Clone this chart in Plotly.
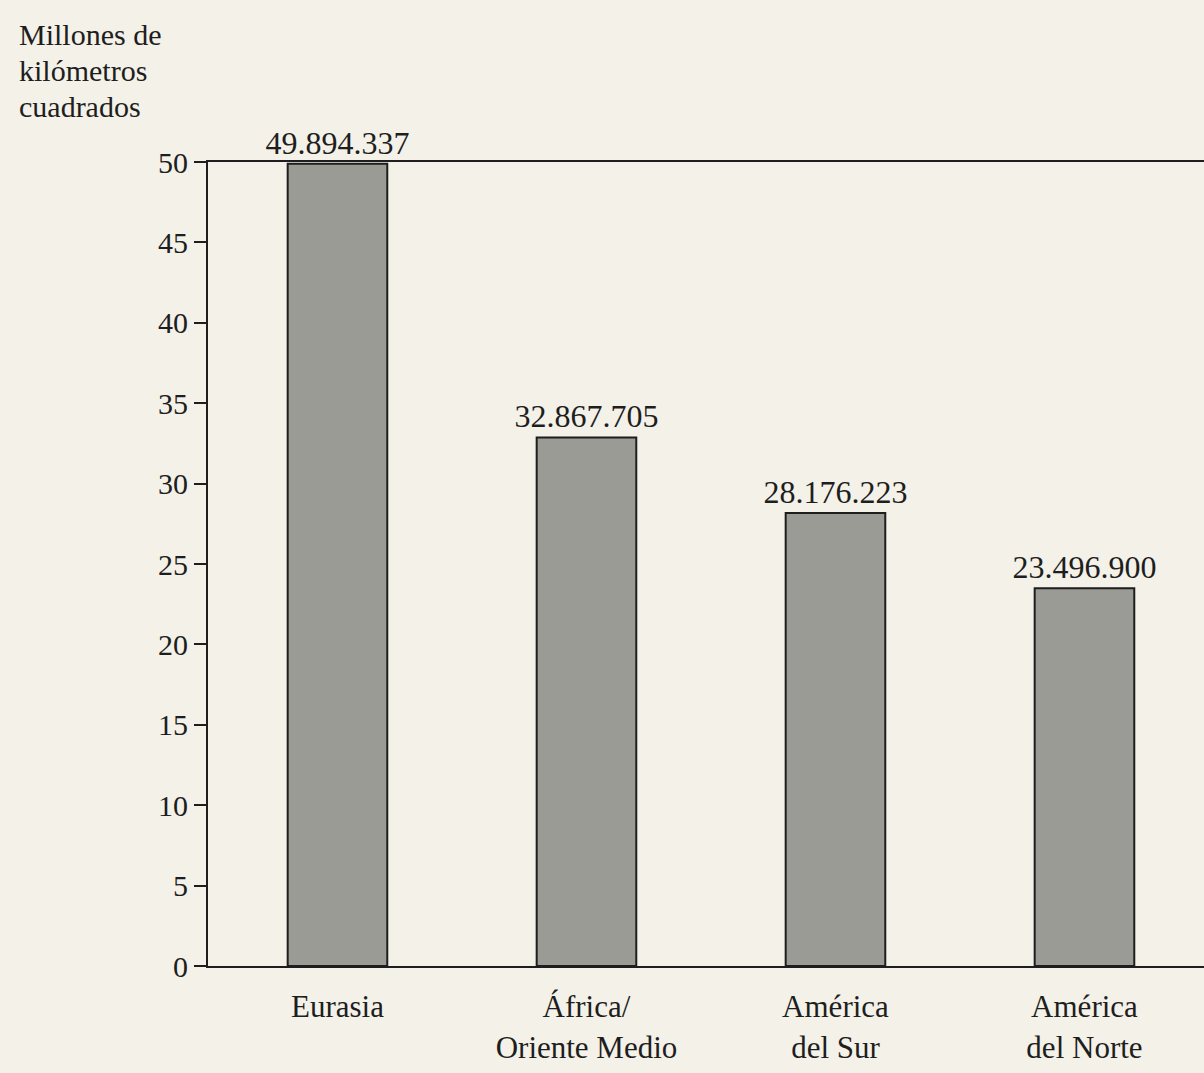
import plotly.graph_objects as go

categories = ["Eurasia", "África/<br>Oriente Medio", "América<br>del Sur", "América<br>del Norte"]
areas_millions = [49.894337, 32.867705, 28.176223, 23.4969]
y_tickvals = [0, 5, 10, 15, 20, 25, 30, 35, 40, 45, 50]

labels = [f"{int(round(v * 1e6)):,}".replace(",", ".") for v in areas_millions]

FONT = "Liberation Serif"
INK = "#1e1e1e"
PAPER = "#f3f1e8"

fig = go.Figure(
    go.Bar(
        x=categories,
        y=areas_millions,
        text=labels,
        textposition="outside",
        constraintext="none",
        textfont=dict(family=FONT, size=32, color=INK),
        cliponaxis=False,
        marker=dict(color="#9b9b96", line=dict(color=INK, width=2)),
        width=0.4,
    )
)

title_lines = ["Millones de", "kilómetros", "cuadrados"]
annotations = []
for i, line in enumerate(title_lines):
    annotations.append(
        dict(
            text=line,
            xref="paper", yref="paper",
            x=-0.192, y=1.0 + (125 - 162 + 0) / -804 + (2 - i) * 36 / 804,
            xanchor="left", yanchor="bottom",
            align="left",
            showarrow=False,
            font=dict(family=FONT, size=30, color=INK),
        )
    )

fig.update_layout(
    width=1204,
    height=1073,
    margin=dict(l=208, r=0, t=162, b=107),
    paper_bgcolor=PAPER,
    plot_bgcolor=PAPER,
    showlegend=False,
    font=dict(family=FONT, size=30, color=INK),
    annotations=annotations,
)

fig.update_xaxes(
    range=[-0.52, 3.48],
    showline=True, mirror=True, linecolor=INK, linewidth=2,
    ticks="", showgrid=False, zeroline=False,
    ticklabelstandoff=12,
    tickfont=dict(family=FONT, size=31, color=INK),
)
fig.update_yaxes(
    range=[0, 50],
    tickvals=y_tickvals,
    showline=True, linecolor=INK, linewidth=2,
    ticks="outside", ticklen=12, tickwidth=2, tickcolor=INK,
    showgrid=False, zeroline=False,
    tickfont=dict(family=FONT, size=30, color=INK),
)

fig.write_html(
    "out.html",
    config={"displayModeBar": False},
    post_script="document.body.style.margin='0';document.body.style.background='#f3f1e8';",
)
